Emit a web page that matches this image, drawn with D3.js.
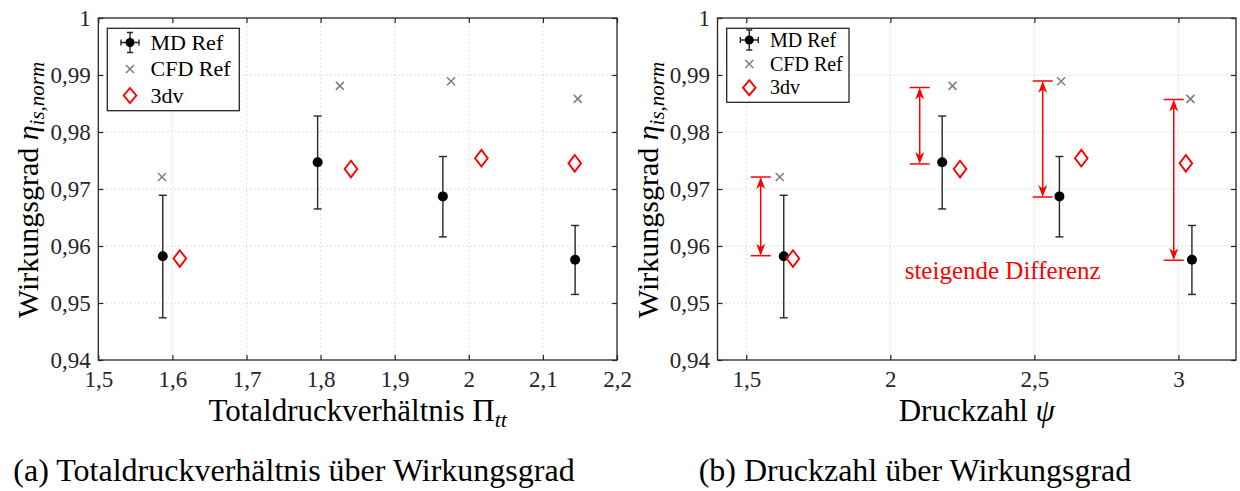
<!DOCTYPE html>
<html><head><meta charset="utf-8">
<script src="https://cdn.jsdelivr.net/npm/d3@7"></script>
<style>
body{margin:0;background:#fff}
svg{display:block}
text{font-family:"Liberation Serif","Times New Roman",serif}
</style>
</head><body>
<svg id="c" width="1240" height="491"></svg>
<script>
// ---------- data ----------
const yTicks = [0.94, 0.95, 0.96, 0.97, 0.98, 0.99, 1.00];
const xTicksA = [1.5, 1.6, 1.7, 1.8, 1.9, 2.0, 2.1, 2.2];
const xTicksB = [1.5, 2.0, 2.5, 3.0];

const mdEta   = [0.9582, 0.9747, 0.9687, 0.9576];
const mdErrHi = [0.9689, 0.9828, 0.9757, 0.9636];
const mdErrLo = [0.9474, 0.9665, 0.9616, 0.9515];
const cfdEta  = [0.9721, 0.9881, 0.9889, 0.9858];
const dvEta   = [0.9578, 0.9735, 0.9754, 0.9745];

const mdPi  = [1.587, 1.796, 1.965, 2.1435];
const cfdPi = [1.586, 1.826, 1.976, 2.147];
const dvPi  = [1.610, 1.841, 2.017, 2.143];

const mdPsi  = [1.630, 2.180, 2.587, 3.047];
const cfdPsi = [1.616, 2.216, 2.593, 3.042];
const dvPsi  = [1.662, 2.242, 2.663, 3.026];

const arrowPsi = [1.550, 2.102, 2.529, 2.984];
const arrowHi  = [0.9721, 0.9878, 0.98895, 0.9857];
const arrowLo  = [0.9583, 0.9744, 0.9686, 0.9575];

const legendLabels = ["MD Ref", "CFD Ref", "3dv"];
const yLabel = "Wirkungsgrad";
const annot = "steigende Differenz";

// ---------- drawing ----------
const svg = d3.select("#c");
const AX = "#262626";
const RED = "#ff0000";
const fmt = d => String(+d.toFixed(2)).replace(".", ",");

function panel(cfg) {
  const g = svg.append("g");
  const x = d3.scaleLinear().domain(cfg.domain).range([cfg.x0, cfg.x1]);
  const y = d3.scaleLinear().domain([0.94, 1]).range([360, 18]);

  // grid
  const grid = g.append("g").attr("stroke", "#d4d4d4").attr("stroke-width", 1).attr("stroke-dasharray", "1.5,2.5");
  grid.selectAll(".gx").data(cfg.ticks.filter(t => x(t) > cfg.x0 + 1 && x(t) < cfg.x1 - 1)).join("line")
    .attr("x1", d => x(d)).attr("x2", d => x(d)).attr("y1", y(1)).attr("y2", y(0.94));
  grid.selectAll(".gy").data(yTicks.slice(1, -1)).join("line")
    .attr("y1", d => y(d)).attr("y2", d => y(d)).attr("x1", cfg.x0).attr("x2", cfg.x1);

  const idx = d3.range(mdEta.length);

  // error bars
  const eb = g.append("g").attr("stroke", AX).attr("stroke-width", 1.4).attr("fill", "none");
  idx.forEach(i => {
    const cx = x(cfg.mdX[i]);
    eb.append("line").attr("x1", cx).attr("x2", cx).attr("y1", y(mdErrHi[i])).attr("y2", y(mdErrLo[i]));
    eb.append("line").attr("x1", cx - 4).attr("x2", cx + 4).attr("y1", y(mdErrHi[i])).attr("y2", y(mdErrHi[i]));
    eb.append("line").attr("x1", cx - 4).attr("x2", cx + 4).attr("y1", y(mdErrLo[i])).attr("y2", y(mdErrLo[i]));
  });
  // MD dots
  g.selectAll(".md").data(idx).join("circle")
    .attr("cx", i => x(cfg.mdX[i])).attr("cy", i => y(mdEta[i])).attr("r", 5).attr("fill", "#000");
  // CFD crosses
  const cross = (cx, cy, s) => `M${cx - s},${cy - s}L${cx + s},${cy + s}M${cx - s},${cy + s}L${cx + s},${cy - s}`;
  g.selectAll(".cfd").data(idx).join("path")
    .attr("d", i => cross(x(cfg.cfdX[i]), y(cfdEta[i]), 4))
    .attr("stroke", "#808080").attr("stroke-width", 1.6).attr("fill", "none");
  // 3dv diamonds
  const diamond = (cx, cy, w, h) => `M${cx},${cy - h}L${cx + w},${cy}L${cx},${cy + h}L${cx - w},${cy}Z`;
  g.selectAll(".dv").data(idx).join("path")
    .attr("d", i => diamond(x(cfg.dvX[i]), y(dvEta[i]), 6.3, 8.3))
    .attr("stroke", RED).attr("stroke-width", 1.9).attr("fill", "none");

  // arrows
  if (cfg.arrows) {
    const ag = g.append("g");
    idx.forEach(i => {
      const ax = x(arrowPsi[i]), y1 = y(arrowHi[i]), y2 = y(arrowLo[i]);
      ag.append("line").attr("x1", ax - 10).attr("x2", ax + 10).attr("y1", y1).attr("y2", y1).attr("stroke", RED).attr("stroke-width", 1.5);
      ag.append("line").attr("x1", ax - 10).attr("x2", ax + 10).attr("y1", y2).attr("y2", y2).attr("stroke", RED).attr("stroke-width", 1.5);
      ag.append("line").attr("x1", ax).attr("x2", ax).attr("y1", y1 + 6).attr("y2", y2 - 6).attr("stroke", RED).attr("stroke-width", 1.5);
      const head = (tx, ty, dir) => `M${tx},${ty}L${tx + 4.5},${ty + dir * 12}L${tx},${ty + dir * 8.5}L${tx - 4.5},${ty + dir * 12}Z`;
      ag.append("path").attr("d", head(ax, y1, 1)).attr("fill", RED);
      ag.append("path").attr("d", head(ax, y2, -1)).attr("fill", RED);
    });
    g.append("text").attr("x", x(cfg.annotX)).attr("y", y(cfg.annotY)).attr("text-anchor", "middle")
      .attr("font-size", 25).attr("fill", RED).text(annot);
  }

  // axes box
  g.append("rect").attr("x", cfg.x0).attr("y", y(1)).attr("width", cfg.x1 - cfg.x0).attr("height", y(0.94) - y(1))
    .attr("fill", "none").attr("stroke", AX).attr("stroke-width", 1.3);

  const style = (sel) => {
    sel.attr("font-family", null).attr("font-size", null);
    sel.select(".domain").remove();
    sel.selectAll(".tick line").attr("stroke", AX).attr("stroke-width", 1.2);
    sel.selectAll(".tick text").attr("fill", AX).attr("font-size", 23);
  };
  const bottom = g.append("g").attr("transform", "translate(0,360)")
    .call(d3.axisBottom(x).tickValues(cfg.ticks).tickSizeInner(-5).tickSizeOuter(0).tickFormat(fmt));
  style(bottom);
  bottom.selectAll(".tick text").attr("y", 27).attr("dy", null);
  const top = g.append("g").attr("transform", "translate(0,18)")
    .call(d3.axisTop(x).tickValues(cfg.ticks).tickSizeInner(-5).tickSizeOuter(0).tickFormat(""));
  style(top);
  const left = g.append("g").attr("transform", `translate(${cfg.x0},0)`)
    .call(d3.axisLeft(y).tickValues(yTicks).tickSizeInner(-5).tickSizeOuter(0).tickPadding(7.5).tickFormat(fmt));
  style(left);
  left.selectAll(".tick text").attr("dy", "0.31em");
  const right = g.append("g").attr("transform", `translate(${cfg.x1},0)`)
    .call(d3.axisRight(y).tickValues(yTicks).tickSizeInner(-5).tickSizeOuter(0).tickFormat(""));
  style(right);

  // axis titles
  const xt = g.append("text").attr("x", (cfg.x0 + cfg.x1) / 2).attr("y", 421).attr("text-anchor", "middle")
    .attr("font-size", 31).attr("fill", "#000");
  xt.append("tspan").text(cfg.xTitle);
  xt.append("tspan").attr("font-style", cfg.xSymItalic ? "italic" : null).text(cfg.xSym);
  if (cfg.xSub) xt.append("tspan").attr("font-style", "italic").attr("font-size", 22).attr("dy", 6).text(cfg.xSub);

  const yl = g.append("text").attr("transform", `translate(${cfg.ylx},190) rotate(-90)`).attr("text-anchor", "middle")
    .attr("font-size", 30).attr("fill", "#000");
  yl.append("tspan").text(yLabel + " ");
  yl.append("tspan").attr("font-style", "italic").text("η");
  yl.append("tspan").attr("font-style", "italic").attr("font-size", 21).attr("dy", 6).text("is,norm");

  // caption
  svg.append("text").attr("x", cfg.capX).attr("y", 481).attr("text-anchor", "middle")
    .attr("font-size", 32).attr("fill", "#000").text(cfg.caption);

  // legend
  const L = cfg.leg;
  const lg = g.append("g");
  lg.append("rect").attr("x", L.x).attr("y", L.y).attr("width", L.w).attr("height", L.h)
    .attr("fill", "#fff").attr("stroke", AX).attr("stroke-width", 1.3);
  const sx = L.sx;
  const r0 = L.rows[0], r1 = L.rows[1], r2 = L.rows[2];
  lg.append("path").attr("d", `M${sx - 9},${r0}H${sx + 9}M${sx - 9},${r0 - 3}V${r0 + 3}M${sx + 9},${r0 - 3}V${r0 + 3}M${sx},${r0 - 10}V${r0 + 10}M${sx - 3},${r0 - 10}H${sx + 3}M${sx - 3},${r0 + 10}H${sx + 3}`)
    .attr("stroke", AX).attr("stroke-width", 1.4).attr("fill", "none");
  lg.append("circle").attr("cx", sx).attr("cy", r0).attr("r", 4.5).attr("fill", "#000");
  lg.append("path").attr("d", cross(sx, r1, 4)).attr("stroke", "#808080").attr("stroke-width", 1.6).attr("fill", "none");
  lg.append("path").attr("d", diamond(sx, r2, 6.3, 7.5)).attr("stroke", RED).attr("stroke-width", 1.9).attr("fill", "none");
  lg.selectAll(".lt").data(legendLabels).join("text")
    .attr("x", L.tx).attr("y", (d, i) => L.rows[i] + L.fs * 0.33).attr("font-size", L.fs).attr("fill", "#000").text(d => d);
}

panel({
  domain: [1.5, 2.2], x0: 98.3, x1: 617, ticks: xTicksA,
  mdX: mdPi, cfdX: cfdPi, dvX: dvPi, arrows: false,
  xTitle: "Totaldruckverhältnis ", xSym: "Π", xSymItalic: false, xSub: "tt",
  ylx: 38, capX: 294, caption: "(a) Totaldruckverhältnis über Wirkungsgrad",
  leg: { x: 107.3, y: 28.3, w: 132, h: 82.4, sx: 130, tx: 150.5, rows: [42.5, 69, 95.5], fs: 22 }
});
panel({
  domain: [1.4, 3.2], x0: 717.5, x1: 1236, ticks: xTicksB,
  mdX: mdPsi, cfdX: cfdPsi, dvX: dvPsi, arrows: true, annotX: 2.39, annotY: 0.9542,
  xTitle: "Druckzahl ", xSym: "ψ", xSymItalic: true, xSub: null,
  ylx: 658, capX: 915, caption: "(b) Druckzahl über Wirkungsgrad",
  leg: { x: 726.7, y: 28.3, w: 122.3, h: 74, sx: 749.3, tx: 770, rows: [40, 64, 87.7], fs: 20 }
});
</script>
</body></html>
